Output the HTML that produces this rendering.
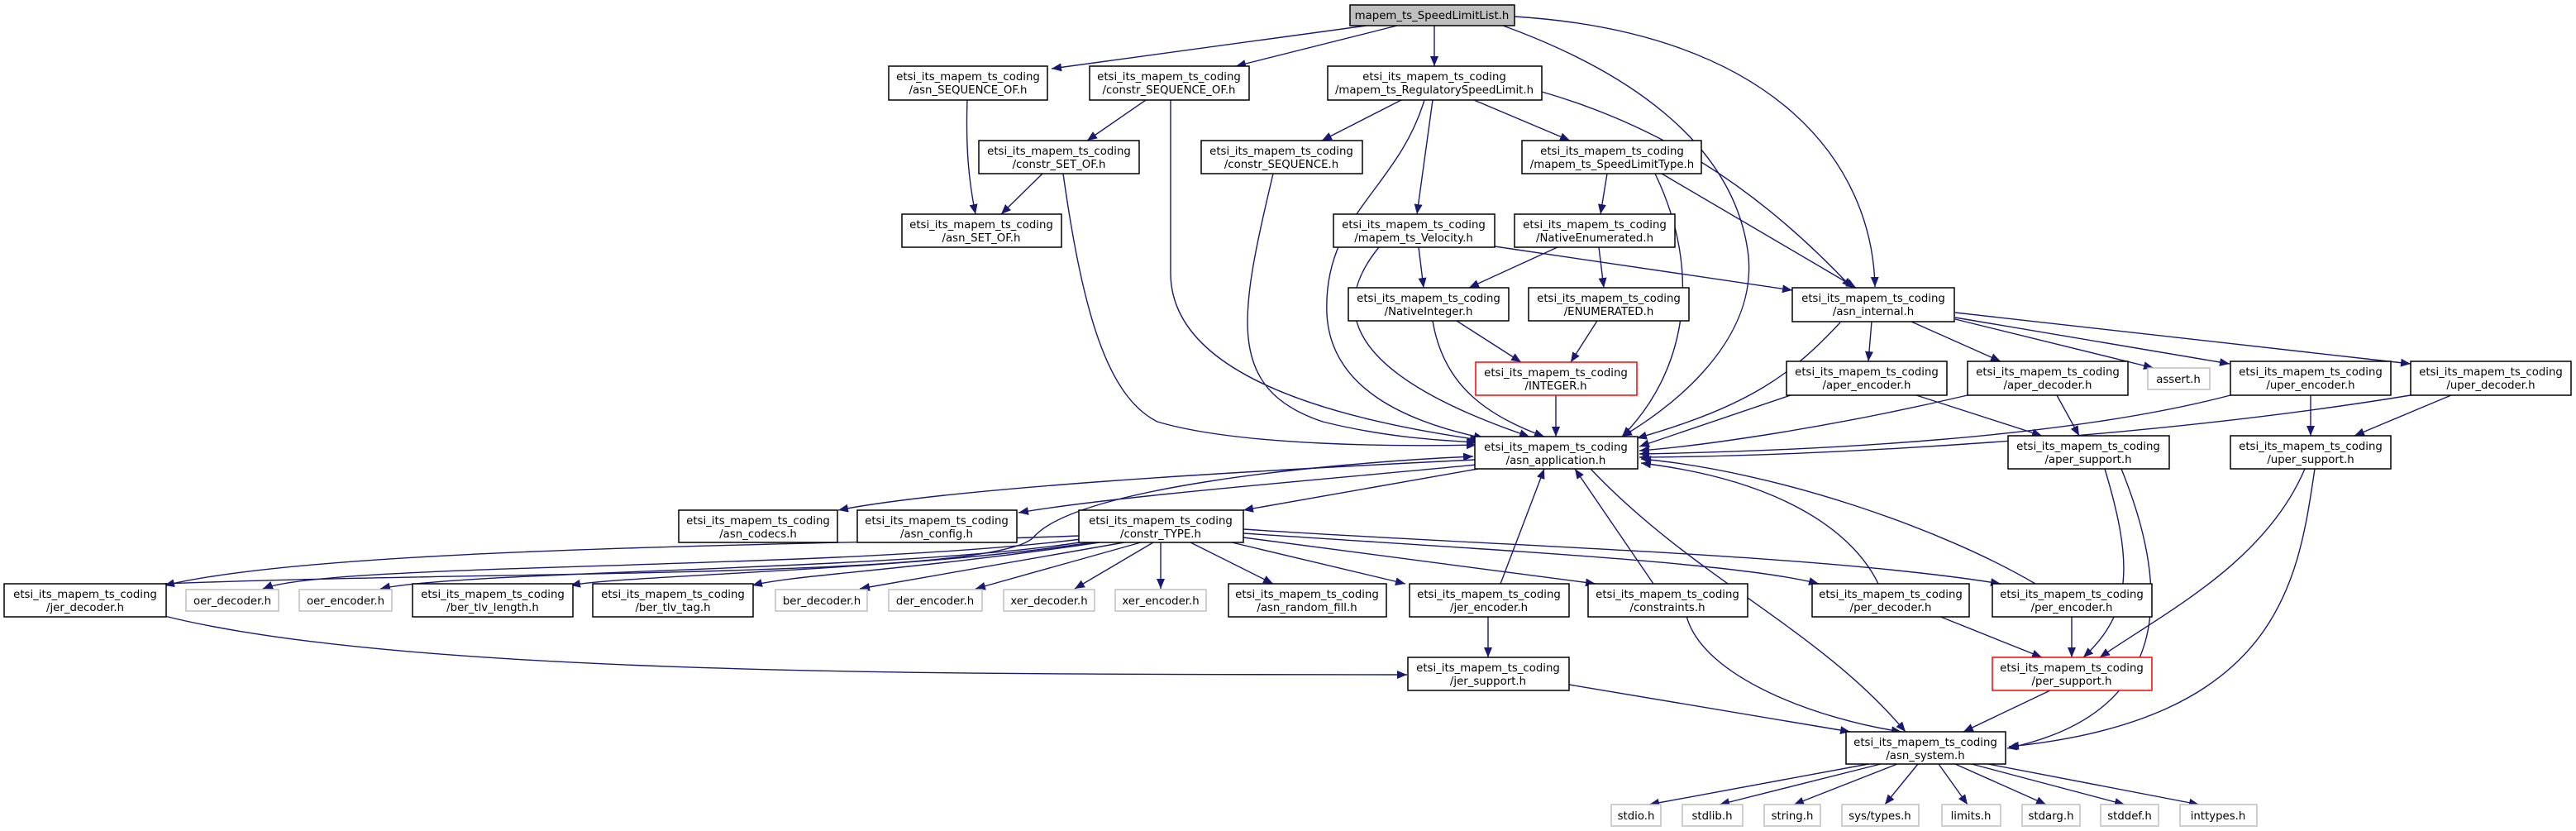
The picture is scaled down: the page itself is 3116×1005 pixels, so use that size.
<!DOCTYPE html>
<html><head><meta charset="utf-8"><style>
html,body{margin:0;padding:0;background:#fff;}
svg{display:block;}
text{font-family:"DejaVu Sans","Liberation Sans",sans-serif;font-size:13.3px;fill:#000;text-anchor:middle;}
.n{fill:#fff;stroke:#000;stroke-width:1.5;}
.g{fill:#fff;stroke:#bfbfbf;stroke-width:1.5;}
.r{fill:#fff;stroke:#ff0000;stroke-width:1.5;}
.e{fill:none;stroke:#191970;stroke-width:1.4;marker-end:url(#a);}
</style></head><body>
<svg width="3116" height="1005" viewBox="0 0 3116 1005" xmlns="http://www.w3.org/2000/svg">
<defs><marker id="a" markerUnits="userSpaceOnUse" markerWidth="14" markerHeight="12" refX="12" refY="5" orient="auto"><path d="M0,0 L12,5 L0,10 z" fill="#191970"/></marker></defs>

<!-- edges -->
<path class="e" d="M1653,31 L1272,83"/>
<path class="e" d="M1690,31 L1495,80"/>
<path class="e" d="M1735,31 L1735,80"/>
<path class="e" d="M1818,31 C1980,90 2100,180 2115,310 C2125,420 2010,500 1962,528"/>
<path class="e" d="M1832,20 C2150,40 2265,200 2268,347"/>
<path class="e" d="M1695,121 L1599,170"/>
<path class="e" d="M1783,121 L1899,170"/>
<path class="e" d="M1733,121 L1714,259"/>
<path class="e" d="M1723,121 C1690,230 1600,260 1605,380 C1610,470 1700,510 1795,530"/>
<path class="e" d="M1865,111 C2000,150 2120,220 2240,348"/>
<path class="e" d="M1170,120 C1168,180 1172,220 1180,259"/>
<path class="e" d="M1386,121 L1315,170"/>
<path class="e" d="M1416,121 L1416,330 C1416,450 1600,505 1790,532"/>
<path class="e" d="M1261,210 L1211,259"/>
<path class="e" d="M1286,210 C1310,380 1340,480 1400,510 C1500,540 1700,540 1786,538"/>
<path class="e" d="M1540,210 C1500,380 1480,470 1600,510 C1680,530 1750,533 1786,535"/>
<path class="e" d="M1944,210 L1936,259"/>
<path class="e" d="M2002,210 C2060,330 2040,450 1962,528"/>
<path class="e" d="M2010,210 L2245,348"/>
<path class="e" d="M1716,299 L1722,348"/>
<path class="e" d="M1668,299 C1610,370 1620,450 1850,528"/>
<path class="e" d="M1808,298 L2168,351"/>
<path class="e" d="M1884,299 L1777,348"/>
<path class="e" d="M1934,299 L1940,348"/>
<path class="e" d="M1762,388 L1840,438"/>
<path class="e" d="M1733,388 C1745,460 1790,500 1868,528"/>
<path class="e" d="M1932,388 L1900,438"/>
<path class="e" d="M1882,478 L1882,528"/>
<path class="e" d="M2226,390 C2170,450 2120,490 1980,530"/>
<path class="e" d="M2264,389 L2260,437"/>
<path class="e" d="M2312,389 L2420,437"/>
<path class="e" d="M2365,386 L2605,445"/>
<path class="e" d="M2365,384 L2697,440"/>
<path class="e" d="M2365,378 L2916,440"/>
<path class="e" d="M2166,478 L1983,540"/>
<path class="e" d="M2318,478 L2470,527"/>
<path class="e" d="M2380,478 C2200,520 2050,540 1983,545"/>
<path class="e" d="M2488,478 L2515,527"/>
<path class="e" d="M2698,478 C2500,530 2200,545 1983,549"/>
<path class="e" d="M2795,478 L2795,527"/>
<path class="e" d="M2916,478 C2600,530 2200,552 1983,553"/>
<path class="e" d="M2965,478 L2848,527"/>
<path class="e" d="M2546,567 C2580,680 2580,740 2520,795"/>
<path class="e" d="M2566,567 C2620,700 2640,860 2428,905"/>
<path class="e" d="M2788,567 C2740,680 2620,740 2540,795"/>
<path class="e" d="M2800,567 C2780,700 2760,870 2430,903"/>
<path class="e" d="M1784,556 C1500,570 1150,590 1014,617"/>
<path class="e" d="M1786,562 C1600,580 1350,600 1232,620"/>
<path class="e" d="M1788,567 L1504,617"/>
<path class="e" d="M1924,567 C2050,700 2200,760 2305,885"/>
<path class="e" d="M1306,648 C1000,660 400,660 199,708"/>
<path class="e" d="M1308,652 C1000,690 400,680 318,712"/>
<path class="e" d="M1312,655 C1100,690 560,690 460,712"/>
<path class="e" d="M1320,656 C1100,690 760,695 690,708"/>
<path class="e" d="M1330,656 C1100,690 960,695 910,708"/>
<path class="e" d="M1360,656 L1040,712"/>
<path class="e" d="M1380,656 L1180,712"/>
<path class="e" d="M1395,656 L1300,712"/>
<path class="e" d="M1404,656 L1404,712"/>
<path class="e" d="M1440,656 L1540,706"/>
<path class="e" d="M1490,656 L1700,706"/>
<path class="e" d="M1504,650 L1930,706"/>
<path class="e" d="M1504,645 C1800,665 2100,680 2200,706"/>
<path class="e" d="M1504,640 C1800,660 2200,670 2420,706"/>
<path class="e" d="M199,706 C600,690 1200,700 1250,650 C1300,590 1600,560 1782,552"/>
<path class="e" d="M199,745 C500,820 1200,815 1702,816"/>
<path class="e" d="M1815,706 L1868,567"/>
<path class="e" d="M1800,745 L1800,795"/>
<path class="e" d="M2000,706 L1905,567"/>
<path class="e" d="M2040,745 C2060,820 2200,870 2300,885"/>
<path class="e" d="M2272,706 C2240,640 2150,580 1985,560"/>
<path class="e" d="M2345,745 L2470,795"/>
<path class="e" d="M2462,706 C2350,640 2150,570 1985,555"/>
<path class="e" d="M2506,745 L2506,795"/>
<path class="e" d="M1898,828 L2238,885"/>
<path class="e" d="M2480,835 L2375,885"/>
<path class="e" d="M2260,924 L1995,973"/>
<path class="e" d="M2275,924 L2080,973"/>
<path class="e" d="M2295,924 L2170,973"/>
<path class="e" d="M2320,924 L2280,973"/>
<path class="e" d="M2345,924 L2380,973"/>
<path class="e" d="M2365,924 L2475,973"/>
<path class="e" d="M2385,924 L2570,973"/>
<path class="e" d="M2405,924 L2660,973"/>

<!-- nodes -->
<rect x="1633" y="6" width="199" height="25" fill="#bfbfbf" stroke="#000" stroke-width="1.5"/>
<text x="1732" y="23">mapem_ts_SpeedLimitList.h</text>

<rect class="n" x="1075" y="80" width="192" height="41"/><text x="1171" y="97">etsi_its_mapem_ts_coding</text><text x="1171" y="113">/asn_SEQUENCE_OF.h</text>
<rect class="n" x="1318" y="80" width="193" height="41"/><text x="1414" y="97">etsi_its_mapem_ts_coding</text><text x="1414" y="113">/constr_SEQUENCE_OF.h</text>
<rect class="n" x="1606" y="80" width="259" height="41"/><text x="1735" y="97">etsi_its_mapem_ts_coding</text><text x="1735" y="113">/mapem_ts_RegulatorySpeedLimit.h</text>

<rect class="n" x="1184" y="170" width="194" height="40"/><text x="1281" y="187">etsi_its_mapem_ts_coding</text><text x="1281" y="203">/constr_SET_OF.h</text>
<rect class="n" x="1453" y="170" width="195" height="40"/><text x="1550" y="187">etsi_its_mapem_ts_coding</text><text x="1550" y="203">/constr_SEQUENCE.h</text>
<rect class="n" x="1841" y="170" width="217" height="40"/><text x="1950" y="187">etsi_its_mapem_ts_coding</text><text x="1950" y="203">/mapem_ts_SpeedLimitType.h</text>

<rect class="n" x="1091" y="259" width="193" height="40"/><text x="1187" y="276">etsi_its_mapem_ts_coding</text><text x="1187" y="292">/asn_SET_OF.h</text>
<rect class="n" x="1613" y="259" width="195" height="40"/><text x="1710" y="276">etsi_its_mapem_ts_coding</text><text x="1710" y="292">/mapem_ts_Velocity.h</text>
<rect class="n" x="1832" y="259" width="194" height="40"/><text x="1929" y="276">etsi_its_mapem_ts_coding</text><text x="1929" y="292">/NativeEnumerated.h</text>

<rect class="n" x="1631" y="348" width="194" height="40"/><text x="1728" y="365">etsi_its_mapem_ts_coding</text><text x="1728" y="381">/NativeInteger.h</text>
<rect class="n" x="1849" y="348" width="194" height="40"/><text x="1946" y="365">etsi_its_mapem_ts_coding</text><text x="1946" y="381">/ENUMERATED.h</text>
<rect class="n" x="2168" y="348" width="196" height="41"/><text x="2266" y="365">etsi_its_mapem_ts_coding</text><text x="2266" y="381">/asn_internal.h</text>

<rect class="r" x="1785" y="438" width="195" height="40"/><text x="1882" y="455">etsi_its_mapem_ts_coding</text><text x="1882" y="471">/INTEGER.h</text>
<rect class="n" x="2161" y="437" width="194" height="41"/><text x="2258" y="454">etsi_its_mapem_ts_coding</text><text x="2258" y="470">/aper_encoder.h</text>
<rect class="n" x="2380" y="437" width="194" height="41"/><text x="2477" y="454">etsi_its_mapem_ts_coding</text><text x="2477" y="470">/aper_decoder.h</text>
<rect class="g" x="2598" y="445" width="75" height="26"/><text x="2635" y="463">assert.h</text>
<rect class="n" x="2698" y="437" width="194" height="41"/><text x="2795" y="454">etsi_its_mapem_ts_coding</text><text x="2795" y="470">/uper_encoder.h</text>
<rect class="n" x="2916" y="437" width="194" height="41"/><text x="3013" y="454">etsi_its_mapem_ts_coding</text><text x="3013" y="470">/uper_decoder.h</text>

<rect class="n" x="1784" y="528" width="197" height="39"/><text x="1882" y="545">etsi_its_mapem_ts_coding</text><text x="1882" y="561">/asn_application.h</text>
<rect class="n" x="2429" y="527" width="195" height="40"/><text x="2526" y="544">etsi_its_mapem_ts_coding</text><text x="2526" y="560">/aper_support.h</text>
<rect class="n" x="2698" y="527" width="194" height="40"/><text x="2795" y="544">etsi_its_mapem_ts_coding</text><text x="2795" y="560">/uper_support.h</text>

<rect class="n" x="821" y="617" width="192" height="39"/><text x="917" y="634">etsi_its_mapem_ts_coding</text><text x="917" y="650">/asn_codecs.h</text>
<rect class="n" x="1037" y="617" width="193" height="39"/><text x="1133" y="634">etsi_its_mapem_ts_coding</text><text x="1133" y="650">/asn_config.h</text>
<rect class="n" x="1305" y="617" width="199" height="39"/><text x="1404" y="634">etsi_its_mapem_ts_coding</text><text x="1404" y="650">/constr_TYPE.h</text>

<rect class="n" x="5" y="706" width="196" height="40"/><text x="103" y="723">etsi_its_mapem_ts_coding</text><text x="103" y="739">/jer_decoder.h</text>
<rect class="g" x="225" y="713" width="112" height="26"/><text x="281" y="731">oer_decoder.h</text>
<rect class="g" x="362" y="713" width="112" height="26"/><text x="418" y="731">oer_encoder.h</text>
<rect class="n" x="499" y="706" width="194" height="40"/><text x="596" y="723">etsi_its_mapem_ts_coding</text><text x="596" y="739">/ber_tlv_length.h</text>
<rect class="n" x="717" y="706" width="194" height="40"/><text x="814" y="723">etsi_its_mapem_ts_coding</text><text x="814" y="739">/ber_tlv_tag.h</text>
<rect class="g" x="938" y="713" width="111" height="26"/><text x="994" y="731">ber_decoder.h</text>
<rect class="g" x="1075" y="713" width="113" height="26"/><text x="1131" y="731">der_encoder.h</text>
<rect class="g" x="1214" y="713" width="110" height="26"/><text x="1269" y="731">xer_decoder.h</text>
<rect class="g" x="1349" y="713" width="110" height="26"/><text x="1404" y="731">xer_encoder.h</text>
<rect class="n" x="1486" y="706" width="191" height="40"/><text x="1581" y="723">etsi_its_mapem_ts_coding</text><text x="1581" y="739">/asn_random_fill.h</text>
<rect class="n" x="1705" y="706" width="193" height="40"/><text x="1801" y="723">etsi_its_mapem_ts_coding</text><text x="1801" y="739">/jer_encoder.h</text>
<rect class="n" x="1921" y="706" width="193" height="40"/><text x="2017" y="723">etsi_its_mapem_ts_coding</text><text x="2017" y="739">/constraints.h</text>
<rect class="n" x="2192" y="706" width="190" height="40"/><text x="2287" y="723">etsi_its_mapem_ts_coding</text><text x="2287" y="739">/per_decoder.h</text>
<rect class="n" x="2410" y="706" width="193" height="40"/><text x="2506" y="723">etsi_its_mapem_ts_coding</text><text x="2506" y="739">/per_encoder.h</text>

<rect class="n" x="1703" y="795" width="195" height="40"/><text x="1800" y="812">etsi_its_mapem_ts_coding</text><text x="1800" y="828">/jer_support.h</text>
<rect class="r" x="2410" y="795" width="193" height="40"/><text x="2506" y="812">etsi_its_mapem_ts_coding</text><text x="2506" y="828">/per_support.h</text>

<rect class="n" x="2233" y="885" width="193" height="39"/><text x="2329" y="902">etsi_its_mapem_ts_coding</text><text x="2329" y="918">/asn_system.h</text>

<rect class="g" x="1949" y="973" width="60" height="26"/><text x="1979" y="991">stdio.h</text>
<rect class="g" x="2035" y="973" width="73" height="26"/><text x="2071" y="991">stdlib.h</text>
<rect class="g" x="2134" y="973" width="68" height="26"/><text x="2168" y="991">string.h</text>
<rect class="g" x="2228" y="973" width="93" height="26"/><text x="2274" y="991">sys/types.h</text>
<rect class="g" x="2349" y="973" width="71" height="26"/><text x="2384" y="991">limits.h</text>
<rect class="g" x="2446" y="973" width="70" height="26"/><text x="2481" y="991">stdarg.h</text>
<rect class="g" x="2541" y="973" width="70" height="26"/><text x="2576" y="991">stddef.h</text>
<rect class="g" x="2637" y="973" width="93" height="26"/><text x="2683" y="991">inttypes.h</text>
</svg>
</body></html>
